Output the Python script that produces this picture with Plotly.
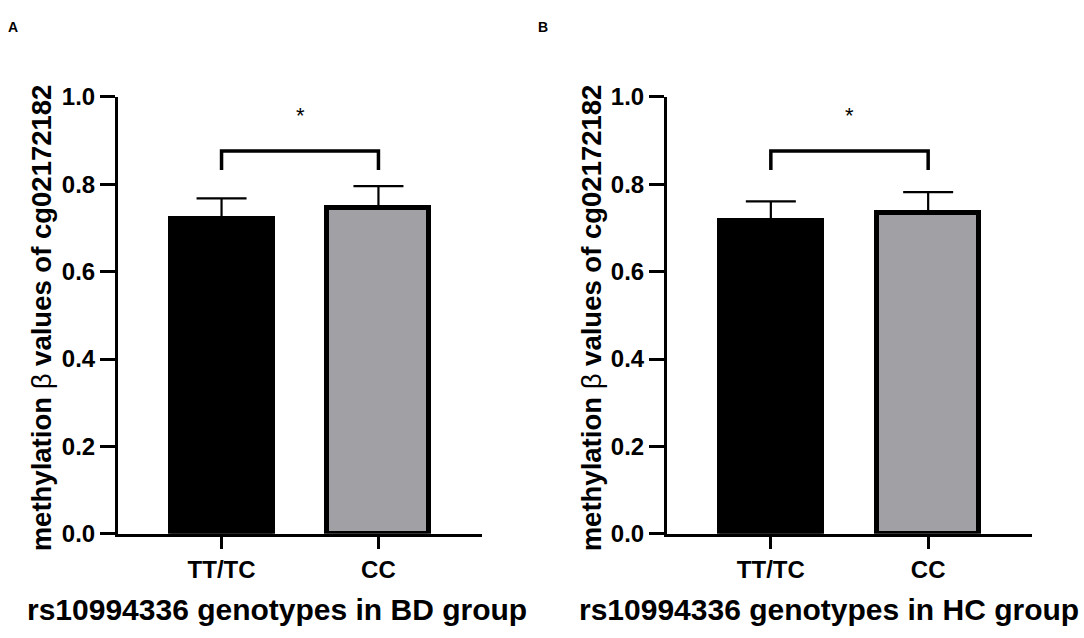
import plotly.graph_objects as go

W, H = 1084, 638

categories = ["TT/TC", "CC"]
means_bd = [0.720, 0.745]
errs_bd = [0.048, 0.051]
means_hc = [0.717, 0.735]
errs_hc = [0.044, 0.047]
bar_colors = ["#000000", "#a1a0a5"]
ytick_vals = [0.0, 0.2, 0.4, 0.6, 0.8, 1.0]
ytick_text = ["0.0", "0.2", "0.4", "0.6", "0.8", "1.0"]
bracket_low, bracket_high, star_y = 0.833, 0.876, 0.957
xtitles = ["rs10994336 genotypes in BD group", "rs10994336 genotypes in HC group"]
ytitle = "<b>methylation</b> β <b>values of cg02172182</b>"
panel_labels = ["A", "B"]

FONT = "Arial, Liberation Sans, Helvetica, sans-serif"

# the rendered page is compressed vertically (observed out = 0.956*y + 14.2);
# place items in layout pixels so they land where the reference shows them
SY, OY = 0.956, 14.2

def px(x):
    return x / W

def py(y_out):
    y = (y_out - OY) / SY
    return 1 - y / H

fig = go.Figure()
xpos = list(range(len(categories)))

for i, (means, errs) in enumerate([(means_bd, errs_bd), (means_hc, errs_hc)]):
    xa = "x" if i == 0 else "x2"
    ya = "y" if i == 0 else "y2"
    fig.add_trace(go.Bar(
        x=xpos, y=means, width=0.65,
        marker=dict(color=bar_colors, line=dict(color="black", width=5)),
        error_y=dict(type="data", array=errs, arrayminus=[0] * len(errs),
                     symmetric=False, color="black", thickness=2.2, width=25),
        xaxis=xa, yaxis=ya, showlegend=False, hoverinfo="skip",
    ))
    fig.add_shape(type="path",
                  path=f"M {xpos[0]},{bracket_low} L {xpos[0]},{bracket_high} L {xpos[1]},{bracket_high} L {xpos[1]},{bracket_low}",
                  xref=xa, yref=ya, line=dict(color="black", width=3.5))
    fig.add_annotation(x=(xpos[0] + xpos[1]) / 2, y=star_y, xref=xa, yref=ya,
                       text="*", showarrow=False,
                       font=dict(family=FONT, size=22, color="black"))

axis_common = dict(showline=True, linecolor="black", linewidth=3, ticks="outside",
                   tickcolor="black", tickwidth=3, showgrid=False, zeroline=False,
                   tickfont=dict(family=FONT, size=24, color="black"))

xd1 = [px(118), px(482)]
xd2 = [px(667), px(1032)]
yd = [py(533), py(97)]

xrng = [-0.66, 1.66]
fig.update_layout(
    width=W, height=H,
    margin=dict(l=0, r=0, t=0, b=0),
    paper_bgcolor="white", plot_bgcolor="white",
    xaxis=dict(domain=xd1, range=xrng, tickvals=xpos,
               ticktext=[f"<b>{c}</b>" for c in categories], ticklen=12,
               anchor="y", **axis_common),
    xaxis2=dict(domain=xd2, range=xrng, tickvals=xpos,
                ticktext=[f"<b>{c}</b>" for c in categories], ticklen=12,
                anchor="y2", **axis_common),
    yaxis=dict(domain=yd, range=[0, 1], tickvals=ytick_vals,
               ticktext=[f"<b>{t}</b>" for t in ytick_text], ticklen=15,
               anchor="x", **axis_common),
    yaxis2=dict(domain=yd, range=[0, 1], tickvals=ytick_vals,
                ticktext=[f"<b>{t}</b>" for t in ytick_text], ticklen=15,
                anchor="x2", **axis_common),
    bargap=0,
    hovermode=False,
)

for cx, t in zip([277, 829], xtitles):
    fig.add_annotation(x=px(cx), y=py(609), xref="paper", yref="paper",
                       text=f"<b>{t}</b>", showarrow=False,
                       xanchor="center", yanchor="middle",
                       font=dict(family=FONT, size=30, color="black"))
for cx in [41, 591]:
    fig.add_annotation(x=px(cx), y=py(318), xref="paper", yref="paper",
                       text=ytitle, showarrow=False, textangle=-90,
                       xanchor="center", yanchor="middle",
                       font=dict(family=FONT, size=27.5, color="black"))
for cx, lab in zip([13, 543], panel_labels):
    fig.add_annotation(x=px(cx), y=py(27), xref="paper", yref="paper",
                       text=f"<b>{lab}</b>", showarrow=False,
                       xanchor="center", yanchor="middle",
                       font=dict(family=FONT, size=14, color="black"))

post = ("document.documentElement.style.margin='0px';"
        "document.body.style.margin='0px';"
        "document.body.style.overflow='hidden';"
        "var d=document.getElementById('{plot_id}');"
        "d.style.position='absolute';d.style.top='0px';d.style.left='0px';")

fig.write_html("out.html", config={"displayModeBar": False}, post_script=post)
